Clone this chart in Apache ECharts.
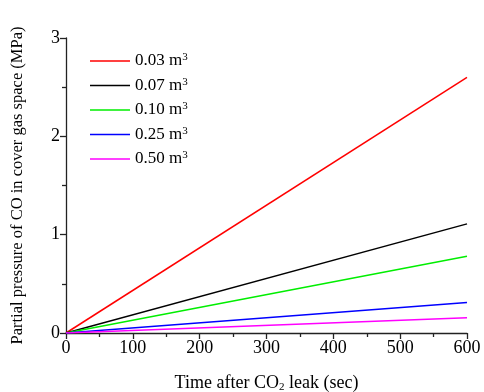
<!DOCTYPE html>
<html>
<head>
<meta charset="utf-8">
<script src="https://cdn.jsdelivr.net/npm/echarts@6/dist/echarts.min.js"></script>
<style>
  html, body { margin: 0; padding: 0; background: #fff; }
  #chart { width: 484px; height: 392px; }
</style>
</head>
<body>
<div id="chart"></div>
<script>
// volumes (m3) and CO partial pressure (MPa) at t = 0 and t = 600 s
const volumes = ['0.03', '0.07', '0.10', '0.25', '0.50'];
const times = [0, 600];
const p003 = [0, 2.60];
const p007 = [0, 1.11];
const p010 = [0, 0.78];
const p025 = [0, 0.31];
const p050 = [0, 0.155];
const colors = ['#ff0000', '#000000', '#00ee00', '#0000ff', '#ff00ff'];

const FONT = '"Liberation Serif", "Times New Roman", serif';
const allSeries = [p003, p007, p010, p025, p050];

const chart = echarts.init(document.getElementById('chart'));

const axisCommon = {
  axisLine: { show: true, lineStyle: { color: '#222', width: 1.3 } },
  axisTick: { show: true, inside: false, length: 6, lineStyle: { color: '#222', width: 1.3 } },
  minorTick: { show: true, splitNumber: 2, length: 4, lineStyle: { color: '#222', width: 1.3 } },
  splitLine: { show: false },
  axisLabel: { color: '#000', fontFamily: FONT, fontSize: 18 },
  nameLocation: 'middle',
  nameTextStyle: { color: '#000', fontFamily: FONT, fontSize: 16.5 },
};

chart.setOption({
  animation: false,
  grid: { left: 66, right: 17, top: 38, bottom: 59, containLabel: false, outerBoundsMode: 'none' },
  legend: {
    orient: 'vertical',
    left: 85,
    top: 47,
    itemWidth: 40,
    itemHeight: 10,
    itemGap: 7,
    icon: 'path://M0,4.3 L40,4.3 L40,5.7 L0,5.7 Z',
    data: volumes,
    formatter: (n) => `{a|${n} m}{s|3}`,
    textStyle: {
      color: '#000',
      fontFamily: FONT,
      rich: {
        a: { fontFamily: FONT, fontSize: 17, color: '#000', lineHeight: 18 },
        s: { fontFamily: FONT, fontSize: 11, color: '#000', verticalAlign: 'top', lineHeight: 18 },
      },
    },
  },
  xAxis: Object.assign({}, axisCommon, {
    type: 'value',
    min: 0,
    max: 600,
    interval: 100,
    name: '{a|Time after CO}{s|2}{a| leak (sec)}',
    nameGap: 40,
    nameTextStyle: {
      color: '#000',
      fontFamily: FONT,
      rich: {
        a: { fontFamily: FONT, fontSize: 18, color: '#000', lineHeight: 20 },
        s: { fontFamily: FONT, fontSize: 11, color: '#000', verticalAlign: 'bottom', lineHeight: 20 },
      },
    },
    axisLabel: Object.assign({}, axisCommon.axisLabel, { margin: 6 }),
  }),
  yAxis: Object.assign({}, axisCommon, {
    type: 'value',
    min: 0,
    max: 3,
    interval: 1,
    name: 'Partial pressure of CO in cover gas space (MPa)',
    nameGap: 40,
    axisLabel: Object.assign({}, axisCommon.axisLabel, { margin: 6 }),
  }),
  series: volumes.map((v, i) => ({
    name: v,
    type: 'line',
    symbol: 'none',
    data: times.map((t, j) => [t, allSeries[i][j]]),
    lineStyle: { color: colors[i], width: 1.5 },
    itemStyle: { color: colors[i] },
  })),
});
</script>
</body>
</html>
